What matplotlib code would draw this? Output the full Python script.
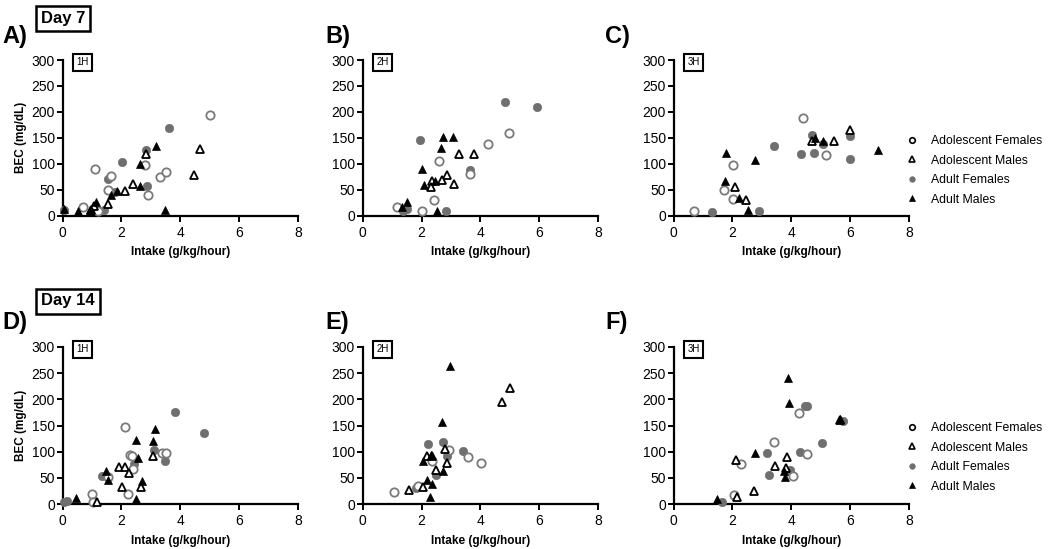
import matplotlib
matplotlib.use("Agg")
import matplotlib.pyplot as plt

plt.rcParams['font.family'] = ['Liberation Sans', 'DejaVu Sans']

# ---- data (x = intake g/kg/hour, y = BEC mg/dL) ----
groups = ["Adolescent Females", "Adolescent Males", "Adult Females", "Adult Males"]

# Day 7, 1H
d7h1_adol_f = ([5.0, 1.11, 0.71, 1.21, 1.53, 1.65, 2.79, 2.89, 3.31, 3.53], [193, 89, 17, 9, 49, 77, 98, 40, 75, 83])
d7h1_adol_m = ([4.67, 4.46, 2.82, 2.41, 2.12, 1.53, 1.07, 0.96], [129, 78, 119, 61, 48, 22, 19, 11])
d7h1_adult_f = ([3.62, 2.03, 2.85, 2.88, 1.56, 1.79, 1.41, 0.06], [168, 103, 126, 56, 70, 46, 11, 10])
d7h1_adult_m = ([3.16, 2.63, 2.63, 1.84, 1.64, 1.15, 0.94, 0.54, 0.06, 3.48], [134, 99, 57, 48, 40, 26, 11, 8, 12, 10])
# Day 7, 2H
d7h2_adol_f = ([4.97, 4.26, 3.66, 2.6, 2.43, 2.0, 1.16], [160, 137, 80, 105, 30, 8, 16])
d7h2_adol_m = ([3.78, 3.27, 2.86, 2.69, 2.36, 2.33, 3.11], [119, 119, 78, 68, 66, 55, 61])
d7h2_adult_f = ([4.82, 5.92, 1.94, 3.64, 2.83, 1.49, 1.36], [219, 209, 146, 88, 9, 12, 8])
d7h2_adult_m = ([2.74, 3.06, 2.67, 2.0, 2.08, 2.47, 1.52, 1.33, 2.54], [152, 152, 131, 89, 59, 66, 27, 16, 8])
# Day 7, 3H
d7h3_adol_f = ([4.39, 5.18, 2.03, 1.72, 2.03, 0.68], [189, 116, 97, 50, 31, 8])
d7h3_adol_m = ([5.99, 5.44, 4.7, 2.1, 2.46], [165, 143, 143, 55, 30])
d7h3_adult_f = ([4.71, 3.42, 4.32, 4.78, 5.09, 5.98, 5.98, 2.9, 1.3], [156, 135, 118, 120, 137, 154, 109, 8, 6])
d7h3_adult_m = ([1.77, 2.77, 1.75, 2.21, 2.53, 6.94, 4.8, 5.09], [120, 107, 66, 33, 11, 127, 150, 143])
# Day 14, 1H
d14h1_adol_f = ([2.11, 2.29, 2.37, 2.41, 2.21, 0.99, 1.05, 3.38, 3.53, 1.54], [147, 93, 91, 66, 20, 19, 3, 97, 97, 52])
d14h1_adol_m = ([3.07, 1.92, 2.12, 2.26, 2.03, 2.65, 1.17], [91, 71, 71, 60, 33, 33, 4])
d14h1_adult_f = ([3.83, 4.8, 3.12, 3.49, 1.35, 2.42, 0.15, 0.06], [176, 135, 103, 82, 54, 77, 5, 3])
d14h1_adult_m = ([3.13, 3.07, 2.49, 2.56, 1.48, 1.53, 2.7, 2.48, 0.47], [143, 120, 122, 88, 63, 45, 43, 9, 11])
# Day 14, 2H
d14h2_adol_f = ([1.06, 1.87, 2.34, 2.94, 3.59, 4.01], [23, 35, 83, 104, 90, 78])
d14h2_adol_m = ([5.0, 4.73, 1.56, 2.04, 2.2, 2.35, 2.79, 2.86, 2.48], [221, 194, 26, 32, 92, 92, 106, 79, 65])
d14h2_adult_f = ([2.21, 2.73, 2.87, 3.4, 2.48, 1.8], [115, 119, 91, 102, 56, 30])
d14h2_adult_m = ([2.95, 2.68, 2.04, 2.32, 2.18, 2.36, 2.72, 2.27], [264, 156, 83, 93, 46, 38, 63, 13])
# Day 14, 3H
d14h3_adol_f = ([4.26, 3.42, 4.53, 4.05, 2.29, 2.06], [174, 119, 95, 53, 77, 17])
d14h3_adol_m = ([5.67, 3.84, 3.45, 3.83, 2.13, 2.72, 2.15], [161, 90, 72, 68, 84, 24, 14])
d14h3_adult_f = ([4.54, 4.48, 5.76, 5.06, 4.31, 3.19, 3.24, 3.97, 1.66], [187, 187, 158, 117, 100, 98, 55, 65, 4])
d14h3_adult_m = ([3.9, 3.92, 2.78, 3.75, 3.79, 1.48, 5.66], [241, 193, 97, 63, 52, 10, 162])

panel_letters = ["A)", "B)", "C)", "D)", "E)", "F)"]
hour_labels = ["1H", "2H", "3H", "1H", "2H", "3H"]
x_ticks = [0, 2, 4, 6, 8]
y_ticks = [0, 50, 100, 150, 200, 250, 300]

panels = [
    [d7h1_adol_f, d7h1_adol_m, d7h1_adult_f, d7h1_adult_m],
    [d7h2_adol_f, d7h2_adol_m, d7h2_adult_f, d7h2_adult_m],
    [d7h3_adol_f, d7h3_adol_m, d7h3_adult_f, d7h3_adult_m],
    [d14h1_adol_f, d14h1_adol_m, d14h1_adult_f, d14h1_adult_m],
    [d14h2_adol_f, d14h2_adol_m, d14h2_adult_f, d14h2_adult_m],
    [d14h3_adol_f, d14h3_adol_m, d14h3_adult_f, d14h3_adult_m],
]

GREY = "#6f6f6f"
styles = [
    dict(marker="o", mfc="white", mec="#7a7a7a", ms=6.0, mew=1.3),
    dict(marker="^", mfc="white", mec="black", ms=6.0, mew=1.3),
    dict(marker="o", mfc=GREY, mec=GREY, ms=6.0, mew=0.5),
    dict(marker="^", mfc="black", mec="black", ms=6.0, mew=0.5),
]
draw_order = [2, 0, 1, 3]

W, H = 1050, 549
fig = plt.figure(figsize=(W / 100, H / 100), dpi=100)

lefts = [62.5, 362.7, 673.5]
width_px = 235.5
row_px = [(60, 215.5), (347, 504)]

axes = []
for i in range(6):
    r, c = divmod(i, 3)
    top, bot = row_px[r]
    ax = fig.add_axes([lefts[c] / W, 1 - bot / H, width_px / W, (bot - top) / H])
    axes.append(ax)
    data = panels[i]
    for g in draw_order:
        xs, ys = data[g]
        ax.plot(xs, ys, linestyle="none", clip_on=False, zorder=3, **styles[g])
    ax.set_xlim(0, 8)
    ax.set_ylim(0, 300)
    ax.set_xticks(x_ticks)
    ax.set_yticks(y_ticks)
    for s in ["top", "right"]:
        ax.spines[s].set_visible(False)
    for s in ["left", "bottom"]:
        ax.spines[s].set_linewidth(1.6)
    ax.tick_params(direction="out", length=4, width=1.4, labelsize=10, colors="black")
    ax.tick_params(axis="x", pad=3.5)
    ax.tick_params(axis="y", pad=1.5)
    ax.set_xlabel("Intake (g/kg/hour)", fontsize=8.5, fontweight="bold", labelpad=4.5)
    if c == 0:
        ax.set_ylabel("BEC (mg/dL)", fontsize=8.5, fontweight="bold", labelpad=3)
    ax.text(0.085, 0.985, hour_labels[i], transform=ax.transAxes, ha="center", va="center",
            fontsize=7, bbox=dict(boxstyle="square,pad=0.35", fc="white", ec="black", lw=1.5))

# panel letters
letter_pos = [(2, 37), (325, 37), (605, 37), (2, 322), (325, 323), (605, 323)]
for (px, py), lab in zip(letter_pos, panel_letters):
    fig.text(px / W, 1 - py / H, lab, fontsize=17, fontweight="bold", ha="left", va="center")

# day boxes
fig.text(63 / W, 1 - 18 / H, "Day 7", fontsize=12, fontweight="bold", ha="center", va="center",
         bbox=dict(boxstyle="square,pad=0.3", fc="white", ec="black", lw=1.8))
fig.text(68 / W, 1 - 301 / H, "Day 14", fontsize=12, fontweight="bold", ha="center", va="center",
         bbox=dict(boxstyle="square,pad=0.3", fc="white", ec="black", lw=1.8))

# legends
leg_styles = [
    dict(marker="o", mfc="white", mec="black", ms=4, mew=1.2),
    dict(marker="^", mfc="white", mec="black", ms=4.5, mew=1.2),
    dict(marker="o", mfc=GREY, mec=GREY, ms=4, mew=0.5),
    dict(marker="^", mfc="black", mec="black", ms=4.5, mew=0.5),
]
for ax, ytop in [(axes[2], 135), (axes[5], 422)]:
    handles = [plt.Line2D([], [], linestyle="none", **st) for st in leg_styles]
    ax.legend(handles, groups, loc="upper left", bbox_to_anchor=(905 / W, 1 - ytop / H),
              bbox_transform=fig.transFigure, frameon=False, fontsize=8.8,
              handlelength=1.2, handletextpad=0.9, labelspacing=0.62, borderpad=0,
              borderaxespad=0)

fig.savefig("out.png", dpi=100)
